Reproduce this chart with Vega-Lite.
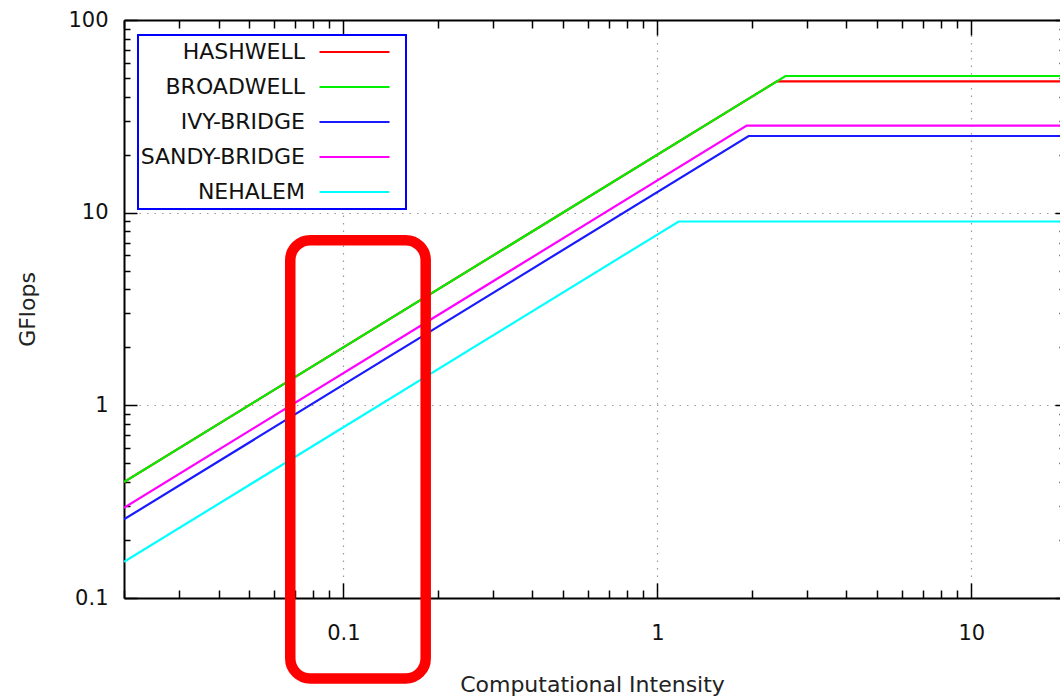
{
  "$schema": "https://vega.github.io/schema/vega-lite/v6.json",
  "width": 936,
  "height": 578,
  "autosize": {"type": "none"},
  "padding": {"left": 124, "top": 20, "right": 0, "bottom": 102},
  "background": "white",
  "config": {
    "font": "DejaVu Sans",
    "view": {"stroke": null},
    "legend": {"strokeWidth": 2},
    "axis": {
      "domainColor": "black",
      "domainWidth": 2,
      "tickColor": "black",
      "tickWidth": 1.5,
      "labelFont": "DejaVu Sans",
      "labelFontSize": 21,
      "labelColor": "#111111",
      "labelOverlap": false,
      "labelFlush": false,
      "labelBound": false,
      "titleFont": "DejaVu Sans",
      "titleFontSize": 22,
      "titleFontWeight": "normal",
      "titleColor": "#222222",
      "gridColor": "#999999",
      "gridDash": [1.5, 6],
      "gridWidth": 1.2
    }
  },
  "datasets": {
    "roofs": [
      {"cpu": "HASHWELL", "intensity": 0.02, "gflops": 0.4},
      {"cpu": "HASHWELL", "intensity": 2.4, "gflops": 48},
      {"cpu": "HASHWELL", "intensity": 20, "gflops": 48},
      {"cpu": "BROADWELL", "intensity": 0.02, "gflops": 0.4},
      {"cpu": "BROADWELL", "intensity": 2.56, "gflops": 51.2},
      {"cpu": "BROADWELL", "intensity": 20, "gflops": 51.2},
      {"cpu": "IVY-BRIDGE", "intensity": 0.02, "gflops": 0.256},
      {"cpu": "IVY-BRIDGE", "intensity": 1.953, "gflops": 25},
      {"cpu": "IVY-BRIDGE", "intensity": 20, "gflops": 25},
      {"cpu": "SANDY-BRIDGE", "intensity": 0.02, "gflops": 0.294},
      {"cpu": "SANDY-BRIDGE", "intensity": 1.925, "gflops": 28.3},
      {"cpu": "SANDY-BRIDGE", "intensity": 20, "gflops": 28.3},
      {"cpu": "NEHALEM", "intensity": 0.02, "gflops": 0.154},
      {"cpu": "NEHALEM", "intensity": 1.169, "gflops": 9.0},
      {"cpu": "NEHALEM", "intensity": 20, "gflops": 9.0}
    ],
    "box": [
      {"x_lo": 0.0677, "x_hi": 0.1828, "y_lo": 0.0382, "y_hi": 7.2}
    ]
  },
  "layer": [
    {
      "data": {"name": "roofs"},
      "mark": {"type": "line", "strokeWidth": 2.2, "clip": true},
      "encoding": {
        "x": {
          "field": "intensity",
          "type": "quantitative",
          "scale": {"type": "log", "domain": [0.02, 19.16], "nice": false},
          "axis": {
            "orient": "bottom",
            "title": "Computational Intensity",
            "titleY": 86,
            "titleBaseline": "middle",
            "values": [0.02, 0.03, 0.04, 0.05, 0.06, 0.07, 0.08, 0.09, 0.1, 0.2, 0.3, 0.4, 0.5, 0.6, 0.7, 0.8, 0.9, 1, 2, 3, 4, 5, 6, 7, 8, 9, 10],
            "labelExpr": "datum.value == 0.1 ? '0.1' : datum.value == 1 ? '1' : datum.value == 10 ? '10' : ''",
            "labelBaseline": "middle",
            "labelPadding": 50,
            "grid": true,
            "gridOpacity": {"condition": {"test": "datum.value == 0.1 || datum.value == 1 || datum.value == 10", "value": 1}, "value": 0},
            "tickSize": {"condition": {"test": "datum.value == 0.1 || datum.value == 1 || datum.value == 10", "value": -15}, "value": -8}
          }
        },
        "y": {
          "field": "gflops",
          "type": "quantitative",
          "scale": {"type": "log", "domain": [0.1, 100], "nice": false},
          "axis": {
            "orient": "left",
            "title": "GFlops",
            "titleX": -97,
            "titleY": 289,
            "titleBaseline": "middle",
            "values": [0.1, 0.2, 0.3, 0.4, 0.5, 0.6, 0.7, 0.8, 0.9, 1, 2, 3, 4, 5, 6, 7, 8, 9, 10, 20, 30, 40, 50, 60, 70, 80, 90, 100],
            "labelExpr": "datum.value == 0.1 ? '0.1' : datum.value == 1 ? '1' : datum.value == 10 ? '10' : datum.value == 100 ? '100' : ''",
            "labelPadding": 29,
            "grid": true,
            "gridOpacity": {"condition": {"test": "datum.value == 1 || datum.value == 10", "value": 1}, "value": 0},
            "tickSize": {"condition": {"test": "datum.value == 0.1 || datum.value == 1 || datum.value == 10 || datum.value == 100", "value": -13}, "value": -6}
          }
        },
        "color": {
          "field": "cpu",
          "type": "nominal",
          "scale": {
            "domain": ["HASHWELL", "BROADWELL", "IVY-BRIDGE", "SANDY-BRIDGE", "NEHALEM"],
            "range": ["#ff0000", "#00f000", "#1a1aff", "#ff00ff", "#00ffff"]
          },
          "legend": {
            "title": null,
            "orient": "none",
            "legendX": 14,
            "legendY": 15,
            "padding": 6,
            "rowPadding": 13,
            "symbolType": "M-5,0H5M5.9,0",
            "symbolSize": 196,
            "symbolStrokeWidth": 2,
            "symbolOffset": 199.5,
            "labelAlign": "right",
            "labelBaseline": "middle",
            "labelOffset": -60.5,
            "labelFont": "DejaVu Sans",
            "labelFontSize": 22,
            "labelColor": "#111111",
            "labelLimit": 0,
            "strokeColor": "#0000ff",
            "fillColor": "white"
          }
        }
      }
    },
    {
      "data": {"name": "box"},
      "mark": {"type": "rect", "filled": false, "stroke": "#ff0000", "strokeWidth": 10.5, "cornerRadius": 20, "clip": false},
      "encoding": {
        "x": {
          "field": "x_lo",
          "type": "quantitative",
          "scale": {"type": "log"},
          "axis": {
            "orient": "top",
            "title": null,
            "labels": false,
            "grid": false,
            "values": [0.02, 0.03, 0.04, 0.05, 0.06, 0.07, 0.08, 0.09, 0.1, 0.2, 0.3, 0.4, 0.5, 0.6, 0.7, 0.8, 0.9, 1, 2, 3, 4, 5, 6, 7, 8, 9, 10],
            "tickSize": {"condition": {"test": "datum.value == 0.1 || datum.value == 1 || datum.value == 10", "value": -15}, "value": -8}
          }
        },
        "x2": {"field": "x_hi"},
        "y": {
          "field": "y_lo",
          "type": "quantitative",
          "scale": {"type": "log"},
          "axis": {
            "orient": "right",
            "title": null,
            "labels": false,
            "grid": false,
            "domain": false,
            "values": [0.1, 0.2, 0.3, 0.4, 0.5, 0.6, 0.7, 0.8, 0.9, 1, 2, 3, 4, 5, 6, 7, 8, 9, 10, 20, 30, 40, 50, 60, 70, 80, 90, 100],
            "tickSize": {"condition": {"test": "datum.value == 0.1 || datum.value == 1 || datum.value == 10 || datum.value == 100", "value": -5}, "value": -1}
          }
        },
        "y2": {"field": "y_hi"}
      }
    }
  ],
  "resolve": {"axis": {"x": "independent", "y": "independent"}}
}
